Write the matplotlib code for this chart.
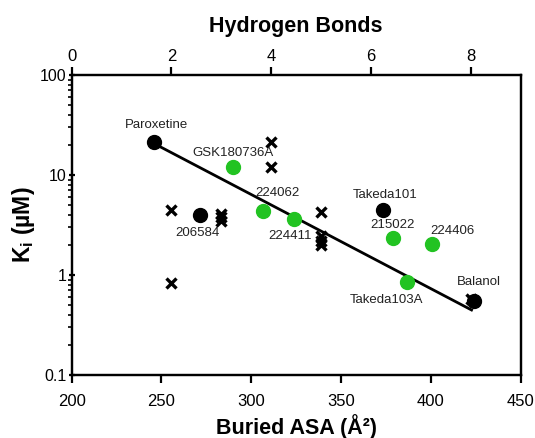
import matplotlib.pyplot as plt
from matplotlib.ticker import LogLocator, NullFormatter

plt.rcParams['font.family'] = ['Liberation Sans', 'DejaVu Sans']
plt.rcParams['mathtext.fontset'] = 'custom'
plt.rcParams['mathtext.rm'] = 'Liberation Sans'
plt.rcParams['mathtext.bf'] = 'Liberation Sans:bold'

# Buried ASA (bottom axis) vs Ki
black_names = ['Paroxetine', '206584', 'Takeda101', 'Balanol']
black_asa = [246.0, 271.4, 373.5, 424.0]
black_ki = [21.5, 3.98, 4.47, 0.553]

green_names = ['GSK180736A', '224062', '224411', '215022', '224406', 'Takeda103A']
green_asa = [290.0, 306.7, 323.9, 378.7, 400.8, 386.9]
green_ki = [11.9, 4.37, 3.6, 2.33, 2.04, 0.845]

# hydrogen bonds (top axis) vs Ki
hb_count = [2, 2, 3, 3, 3, 4, 4, 5, 5, 5, 5, 8]
hb_ki = [4.47, 0.84, 4.1, 3.8, 3.5, 21.5, 11.9, 4.3, 2.47, 2.2, 2.0, 0.57]

# regression line end points
fit_asa = [247.3, 422.7]
fit_ki = [20.0, 0.447]

# label offsets in pixels
label_offsets = {
    'Paroxetine': (2, 17), '206584': (-2, -18), 'Takeda101': (2, 15),
    'Balanol': (5, 19), 'GSK180736A': (0, 14), '224062': (14, 18),
    '224411': (-4, -17), '215022': (0, 13), '224406': (20, 13),
    'Takeda103A': (-21, -18),
}

green = '#22c322'

fig = plt.figure(figsize=(5.35, 4.38), dpi=100)
ax = fig.add_axes([0.134, 0.1438, 0.839, 0.685])
ax2 = ax.twiny()

ax2.plot(hb_count, hb_ki, 'x', color='black', markersize=7, markeredgewidth=2.4)

ax.plot(fit_asa, fit_ki, color='black', lw=2)
ax.plot(black_asa, black_ki, 'o', color='black', markersize=10)
ax.plot(green_asa, green_ki, 'o', color=green, markersize=10)

for names, xs, ys in [(black_names, black_asa, black_ki), (green_names, green_asa, green_ki)]:
    for n, x, y in zip(names, xs, ys):
        ax.annotate(n, (x, y), xytext=label_offsets[n], textcoords='offset pixels',
                    ha='center', va='center', fontsize=9.5, color='#222222')

ax.set_zorder(ax2.get_zorder() + 1)
ax.patch.set_visible(False)

ax.set_yscale('log')
ax.set_ylim(0.1, 100)
ax.set_xlim(200, 450)
ax2.set_xlim(0, 9)
ax.set_xticks([200, 250, 300, 350, 400, 450])
ax2.set_xticks([0, 2, 4, 6, 8])
ax.set_yticks([0.1, 1, 10, 100])
ax.set_yticklabels(['0.1', '1', '10', '100'])
ax.yaxis.set_minor_locator(LogLocator(base=10, subs=range(2, 10)))
ax.yaxis.set_minor_formatter(NullFormatter())

for a in (ax, ax2):
    for s in a.spines.values():
        s.set_linewidth(1.6)
ax.tick_params(axis='x', which='major', length=6, width=1.6, labelsize=12, pad=8)
ax.tick_params(axis='y', which='major', length=5, width=1.6, labelsize=11.5,
               direction='inout', right=False, pad=1)
ax.tick_params(axis='y', which='minor', length=3, width=1.2, right=False)
ax2.tick_params(axis='x', which='major', length=6, width=1.6, labelsize=12, pad=2)

ax.set_xlabel('Buried ASA (Å²)', fontsize=15.5, fontweight='bold', labelpad=3)
ax.set_ylabel('K$_\\mathbf{i}$ (µM)', fontsize=16.5, fontweight='bold', labelpad=2)
ax2.set_xlabel('Hydrogen Bonds', fontsize=15.5, fontweight='bold', labelpad=12)

fig.savefig('out.png', dpi=100)
